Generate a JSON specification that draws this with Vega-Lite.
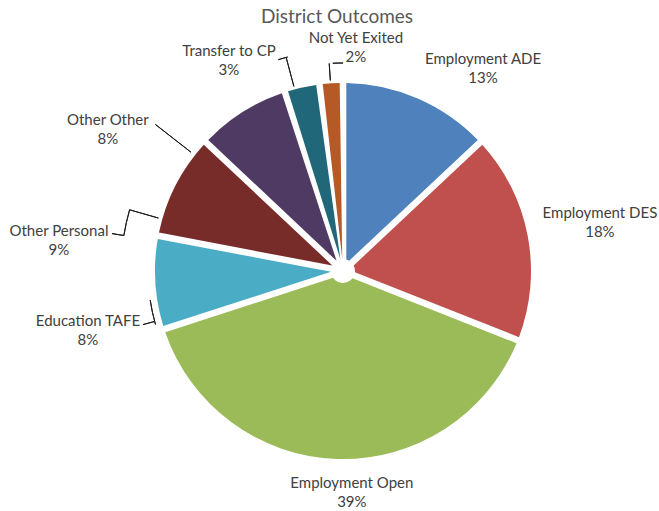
{
  "$schema": "https://vega.github.io/schema/vega-lite/v6.json",
  "autosize": {"type": "none"},
  "width": 632,
  "height": 480,
  "padding": {"left": 27, "top": 31, "right": 0, "bottom": 0},
  "title": {"text": "District Outcomes", "font": "Lato", "fontSize": 19, "fontWeight": "normal", "color": "#595959", "anchor": "middle", "frame": "group", "offset": 4, "dx": -6},
  "config": {"view": {"stroke": null}, "text": {"font": "Lato"}},
  "data": {"values": [
    {"category": "Employment ADE", "value": 13, "label": "Employment ADE\n13%"},
    {"category": "Employment DES", "value": 18, "label": "Employment DES\n18%"},
    {"category": "Employment Open", "value": 39, "label": "Employment Open\n39%"},
    {"category": "Education TAFE", "value": 8, "label": "Education TAFE\n8%"},
    {"category": "Other Personal", "value": 9, "label": "Other Personal\n9%"},
    {"category": "Other Other", "value": 8, "label": "Other Other\n8%"},
    {"category": "Transfer to CP", "value": 3, "label": "Transfer to CP\n3%"},
    {"category": "Not Yet Exited", "value": 2, "label": "Not Yet Exited\n2%"}
  ]},
  "transform": [{"stack": "value", "groupby": [], "as": ["v0", "v1"]}],
  "encoding": {
    "theta": {"field": "v0", "type": "quantitative", "stack": null, "scale": {"domain": [0, 100], "range": [0, 6.283185307179586]}}
  },
  "layer": [
    {
      "mark": {"type": "arc", "radius": 188, "radius2": 12, "padAngle": 0.035},
      "encoding": {
        "theta2": {"field": "v1"},
        "color": {"field": "category", "type": "nominal", "legend": null,
          "scale": {"domain": ["Employment ADE", "Employment DES", "Employment Open", "Education TAFE", "Other Personal", "Other Other", "Transfer to CP", "Not Yet Exited"],
                    "range": ["#4F81BD", "#C0504D", "#9BBB59", "#4BACC6", "#772C2A", "#4E3A62", "#21677A", "#B55A26"]}}
      }
    },
    {"transform": [{"filter": "datum.category === 'Employment ADE'"}],
     "mark": {"type": "text", "radius": 246.6, "thetaOffset": 0.6039, "dy": -9.5, "align": "center", "baseline": "middle", "lineBreak": "\n", "lineHeight": 19, "fontSize": 15, "color": "#404040"},
     "encoding": {"text": {"field": "label"}}},
    {"transform": [{"filter": "datum.category === 'Employment DES'"}],
     "mark": {"type": "text", "radius": 261.4, "thetaOffset": 0.5690, "dy": -9.5, "align": "center", "baseline": "middle", "lineBreak": "\n", "lineHeight": 19, "fontSize": 15, "color": "#404040"},
     "encoding": {"text": {"field": "label"}}},
    {"transform": [{"filter": "datum.category === 'Employment Open'"}],
     "mark": {"type": "text", "radius": 221.2, "thetaOffset": 1.1537, "dy": -9.5, "align": "center", "baseline": "middle", "lineBreak": "\n", "lineHeight": 19, "fontSize": 15, "color": "#404040"},
     "encoding": {"text": {"field": "label"}}},
    {"transform": [{"filter": "datum.category === 'Education TAFE'"}],
     "mark": {"type": "text", "radius": 262, "thetaOffset": 0.0838, "dy": -9.5, "align": "center", "baseline": "middle", "lineBreak": "\n", "lineHeight": 19, "fontSize": 15, "color": "#404040"},
     "encoding": {"text": {"field": "label"}}},
    {"transform": [{"filter": "datum.category === 'Other Personal'"}],
     "mark": {"type": "text", "radius": 285.7, "thetaOffset": -0.0803, "dy": -9.5, "align": "center", "baseline": "middle", "lineBreak": "\n", "lineHeight": 19, "fontSize": 15, "color": "#404040"},
     "encoding": {"text": {"field": "label"}}},
    {"transform": [{"filter": "datum.category === 'Other Other'"}],
     "mark": {"type": "text", "radius": 274.6, "thetaOffset": -0.2112, "dy": -9.5, "align": "center", "baseline": "middle", "lineBreak": "\n", "lineHeight": 19, "fontSize": 15, "color": "#404040"},
     "encoding": {"text": {"field": "label"}}},
    {"transform": [{"filter": "datum.category === 'Transfer to CP'"}],
     "mark": {"type": "text", "radius": 239, "thetaOffset": -0.1833, "dy": -9.5, "align": "center", "baseline": "middle", "lineBreak": "\n", "lineHeight": 19, "fontSize": 15, "color": "#404040"},
     "encoding": {"text": {"field": "label"}}},
    {"transform": [{"filter": "datum.category === 'Not Yet Exited'"}],
     "mark": {"type": "text", "radius": 223.4, "thetaOffset": 0.1833, "dy": -9.5, "align": "center", "baseline": "middle", "lineBreak": "\n", "lineHeight": 19, "fontSize": 15, "color": "#404040"},
     "encoding": {"text": {"field": "label"}}},
    {"transform": [{"filter": "datum.category === 'Not Yet Exited'"}],
     "mark": {"type": "arc", "radius": 208, "radius2": 191, "thetaOffset": 0.0593, "theta2Offset": 0.0593, "filled": false, "color": "#1a1a1a", "strokeWidth": 1},
     "encoding": {"theta2": {"field": "v0"}}},
    {"transform": [{"filter": "datum.category === 'Not Yet Exited'"}],
     "mark": {"type": "arc", "radius": 208, "radius2": 208, "thetaOffset": 0.0768, "theta2Offset": 0.1257, "filled": false, "color": "#1a1a1a", "strokeWidth": 1},
     "encoding": {"theta2": {"field": "v0"}}},
    {"transform": [{"filter": "datum.category === 'Transfer to CP'"}],
     "mark": {"type": "arc", "radius": 221, "radius2": 191, "thetaOffset": 0.0541, "theta2Offset": 0.0541, "filled": false, "color": "#1a1a1a", "strokeWidth": 1},
     "encoding": {"theta2": {"field": "v0"}}},
    {"transform": [{"filter": "datum.category === 'Transfer to CP'"}],
     "mark": {"type": "arc", "radius": 221, "radius2": 221, "thetaOffset": 0.0175, "theta2Offset": 0.0611, "filled": false, "color": "#1a1a1a", "strokeWidth": 1},
     "encoding": {"theta2": {"field": "v0"}}},
    {"transform": [{"filter": "datum.category === 'Other Other'"}],
     "mark": {"type": "arc", "radius": 238, "radius2": 193, "thetaOffset": -0.0908, "theta2Offset": -0.0908, "filled": false, "color": "#1a1a1a", "strokeWidth": 1},
     "encoding": {"theta2": {"field": "v0"}}},
    {"transform": [{"filter": "datum.category === 'Other Personal'"}],
     "mark": {"type": "arc", "radius": 234, "radius2": 222, "thetaOffset": -0.0279, "theta2Offset": -0.0279, "filled": false, "color": "#1a1a1a", "strokeWidth": 1},
     "encoding": {"theta2": {"field": "v0"}}},
    {"transform": [{"filter": "datum.category === 'Other Personal'"}],
     "mark": {"type": "arc", "radius": 222, "radius2": 222, "thetaOffset": -0.0279, "theta2Offset": 0.0908, "filled": false, "color": "#1a1a1a", "strokeWidth": 1},
     "encoding": {"theta2": {"field": "v0"}}},
    {"transform": [{"filter": "datum.category === 'Other Personal'"}],
     "mark": {"type": "arc", "radius": 222, "radius2": 192, "thetaOffset": 0.0908, "theta2Offset": 0.0908, "filled": false, "color": "#1a1a1a", "strokeWidth": 1},
     "encoding": {"theta2": {"field": "v0"}}},
    {"transform": [{"filter": "datum.category === 'Education TAFE'"}],
     "mark": {"type": "arc", "radius": 195, "radius2": 195, "thetaOffset": 0.0366, "theta2Offset": 0.1641, "filled": false, "color": "#1a1a1a", "strokeWidth": 1},
     "encoding": {"theta2": {"field": "v0"}}},
    {"transform": [{"filter": "datum.category === 'Education TAFE'"}],
     "mark": {"type": "arc", "radius": 207, "radius2": 195, "thetaOffset": 0.0524, "theta2Offset": 0.0524, "filled": false, "color": "#1a1a1a", "strokeWidth": 1},
     "encoding": {"theta2": {"field": "v0"}}}
  ]
}
